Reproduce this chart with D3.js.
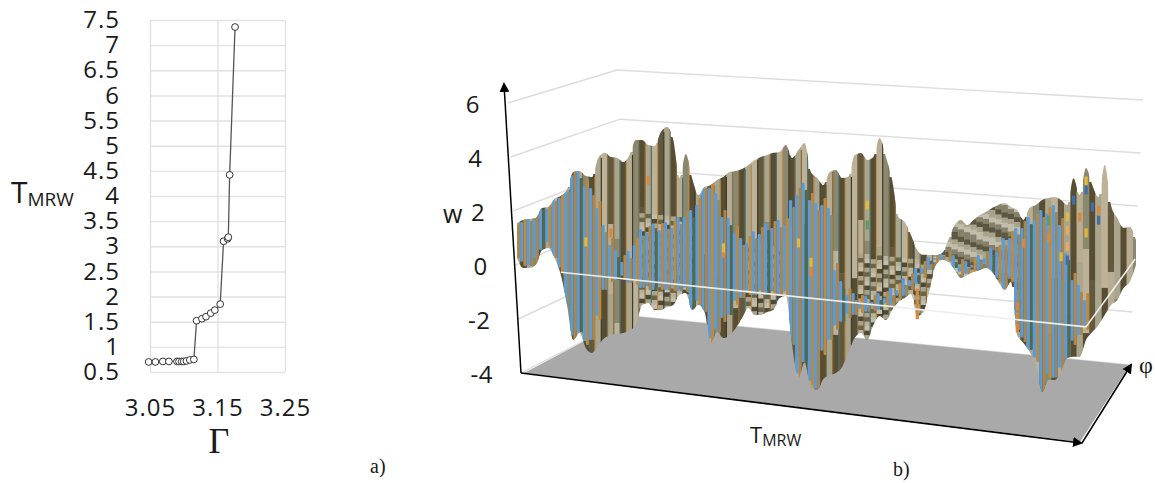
<!DOCTYPE html>
<html>
<head>
<meta charset="utf-8">
<script src="https://cdn.jsdelivr.net/npm/d3@7"></script>
<style>
    html, body { margin: 0; background: #fff; }
    svg { display: block; }
    text { fill: #1a1a1a; font-family: "Open Sans", sans-serif; }
    .serif { font-family: "Liberation Serif", serif; }
</style>
</head>
<body>
<svg id="chart" width="1155" height="483"></svg>
<script>
// panel a) Gamma vs T_MRW
const gammaValues = [3.048, 3.058, 3.069, 3.078, 3.090, 3.093, 3.097, 3.100, 3.104, 3.109, 3.115,
    3.119, 3.127, 3.133, 3.140, 3.146, 3.154, 3.159, 3.165, 3.166, 3.168, 3.176];
const periodValues = [0.70, 0.70, 0.71, 0.71, 0.71, 0.71, 0.71, 0.71, 0.72, 0.74, 0.75,
    1.52, 1.56, 1.60, 1.67, 1.73, 1.85, 3.10, 3.15, 3.18, 4.42, 7.36];
const periodTicks = [0.5, 1, 1.5, 2, 2.5, 3, 3.5, 4, 4.5, 5, 5.5, 6, 6.5, 7, 7.5];
const gammaTicks = [3.05, 3.15, 3.25];

// panel b) surface, one value per station along T_MRW
const wTicks = [6, 4, 2, 0, -2, -4];
const surfaceTop = [1.66, 1.79, 1.85, 1.91, 2.31, 2.37, 2.69, 2.82, 3.07, 3.76, 3.82, 3.66, 3.65, 4.38, 4.59, 4.46, 4.45, 4.32, 4.61, 5.19,
    5.21, 5.05, 5.04, 5.58, 5.79, 5.33, 3.95, 4.86, 4.00, 3.39, 3.71, 3.81, 4.02, 4.15, 4.36, 4.42, 4.52, 4.69, 4.90, 5.04,
    5.14, 5.24, 5.30, 5.58, 5.12, 5.44, 5.73, 4.68, 4.48, 4.24, 4.75, 4.85, 4.57, 4.64, 5.47, 5.57, 5.34, 5.47, 6.20, 5.52,
    4.69, 3.35, 3.19, 2.73, 2.20, 2.04, 2.06, 2.08, 2.18, 2.69, 3.27, 3.48, 3.31, 3.52, 3.73, 3.87, 4.04, 4.18, 4.27, 4.15,
    4.06, 3.72, 4.19, 4.32, 4.53, 4.63, 4.69, 4.60, 4.44, 5.46, 4.86, 5.88, 5.28, 4.86, 6.07, 4.61, 4.15, 3.81, 3.87, 3.41];
const surfaceBottom = [0.36, 0.01, 0.04, 0.17, 0.75, 0.85, 0.50, -0.10, -1.19, -2.46, -2.18, -2.71, -2.87, -2.55, -2.27, -2.13, -2.07, -2.01, -1.88, -1.67,
    -0.90, -0.80, -1.04, -1.01, -0.88, -0.78, -0.38, -0.29, -0.89, -0.68, -0.92, -2.04, -1.61, -1.81, -1.67, -1.39, -1.00, -0.60, -0.84, -0.81,
    -0.68, -0.58, -0.11, -0.01, -1.80, -3.00, -2.39, -3.32, -3.37, -2.94, -2.77, -2.67, -2.43, -1.85, -1.30, -1.09, -1.33, -0.75, -0.39, -0.52,
    -0.12, 0.20, 0.37, 0.54, -0.25, -0.08, 0.76, 1.71, 1.92, 1.87, 1.60, 1.33, 1.46, 1.60, 1.70, 1.79, 1.67, 1.32, 1.05, 1.37,
    -0.57, -0.84, -1.15, -1.60, -2.58, -2.11, -2.09, -1.77, -1.23, -1.16, -1.14, -0.49, -0.17, 0.12, 0.51, 0.91, 1.11, 1.58, 1.83, 2.48];
const frontTop = [1.58, 1.72, 1.78, 1.84, 2.23, 2.29, 2.61, 2.75, 3.00, 3.65, 3.56, 3.29, 2.98, 2.52, 1.66, 1.20, 0.78, 0.62, 0.79, 1.30,
    1.66, 1.79, 1.89, 1.95, 2.01, 2.07, 2.24, 2.53, 2.55, 3.02, 3.67, 3.70, 3.28, 2.67, 2.40, 2.13, 1.71, 1.81, 2.01, 2.19,
    2.36, 2.46, 2.52, 2.62, 3.31, 3.78, 3.99, 3.64, 3.29, 3.50, 3.16, 1.14, 0.50, 0.26, 0.10, 0.05, 0.04, 0.10, 0.20, 0.30,
    0.43, 0.64, 0.85, 1.06, 1.27, 1.55, 1.73, 1.97, 2.07, 2.02, 1.90, 1.77, 1.72, 1.86, 1.99, 2.16, 2.30, 2.44, 2.72, 3.00,
    3.14, 3.42, 3.59, 3.76, 3.90, 4.04, 4.13, 3.68, 2.40, 1.69, 1.27, 0.99];
const frontBottom = [0.36, 0.09, 0.11, 0.28, 0.75, 0.92, 0.50, 0.01, -1.19, -2.46, -2.14, -2.60, -2.39, -1.62, -0.49, -0.17, -0.07, -0.05, -0.13, -0.18,
    -0.27, -0.32, -0.30, -0.27, -0.25, -0.26, -0.24, -0.25, -0.89, -0.68, -0.92, -2.04, -1.54, -1.22, -0.93, -0.54, -0.26, -0.12, -0.10, -0.07,
    -0.05, -0.02, 0.00, -0.01, -1.80, -3.00, -2.39, -3.21, -3.30, -2.05, -1.47, -1.08, -0.76, -0.59, -0.45, -0.35, -0.29, -0.23, -0.17, -0.07,
    0.06, 0.27, 0.44, 0.69, 0.94, 1.18, 1.50, 1.75, 1.92, 1.91, 1.67, 1.40, 1.50, 1.60, 1.70, 1.79, 1.67, 1.32, 1.05, 1.37,
    -0.38, -0.80, -1.07, -1.49, -2.58, -2.04, -2.01, -1.77, -1.23, -0.72, -0.33, -0.12];

// stretches of the surface that break up into small cells, and the w they start below
const crinkleFrom = [20, 37, 55];
const crinkleTo = [28, 42, 68];
const crinkleW = [2.5, 1.8, 1.85];
const hillFrom = 67, hillTo = 80;

// single coloured cells on the surface
const accentStation = [11, 33, 33, 45, 47, 47, 56, 56, 64, 64, 64, 80, 80, 80, 88, 88, 89, 91, 91, 90, 92, 93, 93, 85, 85, 87, 88, 88, 91, 81, 15, 21];
const accentW = [1.22, 1.33, 1.53, 2.0, 1.33, 0.98, 3.67, 2.93, 0.6, 0.2, -0.2, 0.5, 0.1, -0.3, 4.0, 3.5, 4.65, 5.4, 5.07, 4.04, 4.46, 4.37, 4.0, 3.17, 3.8, 2.5, 2.4, 2.9, 3.48, 2.86, 1.65, 3.75];
const accentColor = ["#e2b93b", "#d9883c", "#e2b93b", "#e2b93b", "#e2b93b", "#d9883c", "#e2b93b", "#5f9a6a", "#d9883c", "#d9883c", "#d9883c", "#dd8434", "#dd8434", "#dd8434",
    "#e2b93b", "#e8a95c", "#3f6ea8", "#e2b93b", "#3f6ea8", "#d9883c", "#3f6ea8", "#d9883c", "#3f6ea8", "#d9883c", "#5f9a6a", "#e2b93b", "#3f6ea8", "#e8a95c", "#e2b93b", "#d9883c", "#d9883c", "#d9883c"];

const backColors = ["#a9a48c", "#564d33", "#b8ad93", "#8b8870", "#564d33", "#aaa58c", "#bdb198", "#63593d"];
const thinColors = ["#8a6a3a", "#4f6f6a", "#b98a4a", "#3d3a2a", "#7a7358"];
const bandColors = ["#5b5640", "#a8a48c", "#c2bcaa", "#85806a"];
const crinkleColors = ["#c2bcaa", "#4f4a34", "#a8a48c", "#6b6549", "#b9b29a"];
const frontColors = ["#a8864f", "#c08a3e", "#8d8a6e", "#a8864f", "#4f6a50", "#b48a4c"];

const svg = d3.select("#chart");

// ---------- panel a ----------
const x = d3.scaleLinear().domain([3.05, 3.25]).range([150, 285]);
const y = d3.scaleLinear().domain([0.5, 7.5]).range([372, 20]);

const yAxis = svg.append("g")
    .attr("transform", "translate(150,0)")
    .call(d3.axisLeft(y).tickValues(periodTicks).tickSize(-135).tickPadding(30).tickFormat(d => d));
const xAxis = svg.append("g")
    .attr("transform", "translate(0,372)")
    .call(d3.axisBottom(x).tickValues(gammaTicks).tickSize(-352).tickPadding(27).tickFormat(d3.format(".2f")));
[yAxis, xAxis].forEach(a => {
    a.select(".domain").remove();
    a.selectAll("line").attr("stroke", "#e2e2e2").attr("stroke-width", 1.4);
    a.selectAll("text").style("font-size", "24px").style("letter-spacing", "1px");
});

const curvePoints = gammaValues.map((g, i) => [x(g), y(periodValues[i])]);
svg.append("path")
    .attr("d", d3.line()(curvePoints))
    .attr("fill", "none").attr("stroke", "#555").attr("stroke-width", 1.3);
svg.append("g").selectAll("circle")
    .data(curvePoints)
    .join("circle")
        .attr("cx", d => d[0])
        .attr("cy", d => d[1])
        .attr("r", 3.4)
        .attr("fill", "#fff")
        .attr("stroke", "#333")
        .attr("stroke-width", 1);

function labelWithIndex(px, py, big, small, bigSize, smallSize, drop) {
    const t = svg.append("text").attr("x", px).attr("y", py).style("font-size", bigSize + "px").text(big);
    t.append("tspan").attr("dy", drop).style("font-size", smallSize + "px").text(small);
}
labelWithIndex(11, 203, "T", "MRW", 30, 19, 3);
svg.append("text").attr("class", "serif").attr("x", 219).attr("y", 453).attr("text-anchor", "middle")
    .style("font-size", "36px").text("Γ");
svg.append("text").attr("class", "serif").attr("x", 370).attr("y", 473).style("font-size", "20px").text("a)");

// ---------- panel b ----------
const station = d3.scaleLinear().domain([0, 99]).range([517, 1136]);
const zeroLine = d3.scaleLinear().domain([0, 99]).range([267.7, 332.05]);
const wHeight = d3.scaleLinear().domain([0, 1]).range([0, 27]);
const project = (i, w) => zeroLine(i) - wHeight(w);
const stationWidth = station(1) - station(0);

// walls: front-left edge, back-left edge, back-right edge
const frontLeftX = d3.scaleLinear().domain([-4, 6]).range([521, 508]);
const frontLeftY = d3.scaleLinear().domain([-4, 6]).range([373, 103]);
const backLeftX = d3.scaleLinear().domain([-4, 6]).range([632, 617]);
const backLeftY = d3.scaleLinear().domain([-4, 6]).range([316, 70]);
const backRightX = d3.scaleLinear().domain([-4, 6]).range([1130, 1143]);
const backRightY = d3.scaleLinear().domain([-4, 6]).range([365, 100]);

svg.append("g").selectAll("path")
    .data(wTicks)
    .join("path")
        .attr("d", w => d3.line()([
            [frontLeftX(w), frontLeftY(w)],
            [backLeftX(w), backLeftY(w)],
            [backRightX(w), backRightY(w)]
        ]))
        .attr("fill", "none")
        .attr("stroke", "#dcdcdc")
        .attr("stroke-width", 1.4);

// floor
svg.append("path")
    .attr("d", d3.line()([
        [frontLeftX(-4) + 3, frontLeftY(-4)],
        [1080, 442],
        [backRightX(-4), backRightY(-4)],
        [backLeftX(-4), backLeftY(-4)]
    ]) + "Z")
    .attr("fill", "#a9a9a9");

svg.append("g").selectAll("text")
    .data(wTicks)
    .join("text")
        .attr("x", d3.scaleLinear().domain([-4, 6]).range([493, 480]))
        .attr("y", w => frontLeftY(w) + 10)
        .attr("text-anchor", "end")
        .style("font-size", "24px")
        .style("letter-spacing", "0.5px")
        .text(d => d);
svg.append("text").attr("x", 443).attr("y", 223).style("font-size", "25px").text("w");

const defs = svg.append("defs");
defs.append("filter").attr("id", "soft")
    .append("feGaussianBlur").attr("stdDeviation", 0.4);

const wholeArea = d3.area()
    .x((d, i) => station(i))
    .y0((d, i) => project(i, surfaceBottom[i]))
    .y1((d, i) => project(i, d))
    .curve(d3.curveMonotoneX);
defs.append("clipPath").attr("id", "clip-whole").append("path").attr("d", wholeArea(surfaceTop));

const surface = svg.append("g").attr("filter", "url(#soft)");
const clipped = surface.append("g").attr("clip-path", "url(#clip-whole)");

// back of the surface, split into cells down each column
const backCells = [];
surfaceTop.forEach((top, i) => {
    const yTop = project(i, top) - 3;
    const yBottom = project(i, surfaceBottom[i]) + 3;
    const zone = crinkleFrom.findIndex((f, k) => i >= f && i <= crinkleTo[k]);
    const yCrinkle = zone >= 0 ? project(i, crinkleW[zone]) : Infinity;
    const inHill = i >= hillFrom && i <= hillTo;
    let yy = yTop, j = 0;
    while (yy < yBottom) {
        let h = 70 + (i % 5) * 14;
        let color = backColors[(i + j * 3) % backColors.length];
        if (inHill) {
            // slanted bands running down the hill
            h = 2.5;
            const band = Math.floor((yy - station(i) * 0.45) / 5.5);
            color = bandColors[((band % 4) + 4) % 4];
        } else if (yy >= yCrinkle) {
            h = 4.5;
            color = crinkleColors[(i * 2 + j) % crinkleColors.length];
        } else if (yy + h > yCrinkle) {
            h = yCrinkle - yy;
        }
        backCells.push({i, y: yy, h: h + 0.5, color});
        yy += h;
        j++;
    }
});
clipped.append("g").selectAll("rect")
    .data(backCells)
    .join("rect")
        .attr("x", d => station(d.i) - stationWidth / 2)
        .attr("y", d => d.y)
        .attr("width", stationWidth + 0.3)
        .attr("height", d => d.h)
        .attr("fill", d => d.color);

// thin seams between the columns
clipped.append("g").selectAll("rect")
    .data(d3.range(hillFrom))
    .join("rect")
        .attr("x", i => station(i) + stationWidth / 2 - 0.7)
        .attr("y", i => project(i, surfaceTop[i]))
        .attr("width", 1.2)
        .attr("height", i => project(i, surfaceBottom[i]) - project(i, surfaceTop[i]))
        .attr("fill", i => thinColors[i % thinColors.length]);

// front edge: blue and tan stripes side by side, the ends alternate so the edge stays jagged
const jag = i => (i % 2 ? 0 : 7);
const frontY = i => project(i, frontTop[i]) - jag(i);
const frontH = i => project(i, frontBottom[i]) - project(i, frontTop[i]) + jag(i) - jag(i + 1) * 0.6;
const front = clipped.append("g");
front.selectAll("rect.blue")
    .data(d3.range(frontTop.length))
    .join("rect")
        .attr("class", "blue")
        .attr("x", i => station(i) - stationWidth / 2)
        .attr("y", frontY)
        .attr("width", stationWidth * 0.52)
        .attr("height", d => Math.max(0, frontH(d)))
        .attr("rx", 1.4)
        .attr("fill", "#5b9ad8");
front.selectAll("rect.tan")
    .data(d3.range(frontTop.length))
    .join("rect")
        .attr("class", "tan")
        .attr("x", i => station(i) + stationWidth * 0.02)
        .attr("y", i => project(i, frontTop[i]) - jag(i + 1))
        .attr("width", stationWidth * 0.48)
        .attr("height", i => Math.max(0, project(i, frontBottom[i]) - project(i, frontTop[i]) + jag(i + 1)))
        .attr("rx", 1.2)
        .attr("fill", i => frontColors[i % frontColors.length]);

surface.append("g").selectAll("rect")
    .data(accentStation)
    .join("rect")
        .attr("x", i => station(i) - 1.5)
        .attr("y", (i, k) => project(i, accentW[k]) - 4.5)
        .attr("width", 3.2)
        .attr("height", 9)
        .attr("fill", (i, k) => accentColor[k]);

// white w = 0 rule laid over the surface, with its return on the right wall
svg.append("path")
    .attr("d", d3.line()([
        [station(7), project(7, 0)],
        [station(91), project(91, 0)],
        [backRightX(0), backRightY(0)]
    ]))
    .attr("fill", "none").attr("stroke", "#eeeeee").attr("stroke-width", 1.6);

// axes with arrow heads
defs.append("marker").attr("id", "arrow")
    .attr("viewBox", "0 0 10 10").attr("refX", 8).attr("refY", 5)
    .attr("markerWidth", 10).attr("markerHeight", 10)
    .attr("markerUnits", "userSpaceOnUse").attr("orient", "auto")
    .append("path").attr("d", "M0,0L10,5L0,10Z").attr("fill", "#000");

const axisCorner = [frontLeftX(-4), frontLeftY(-4)];
const floorFrontRight = [1081, 443];
[
    [axisCorner, [504, 84]],
    [axisCorner, floorFrontRight],
    [[floorFrontRight[0] + 1, floorFrontRight[1]], [1131, 365]]
].forEach(seg => {
    svg.append("path")
        .attr("d", d3.line()(seg))
        .attr("stroke", "#000").attr("stroke-width", 1.5)
        .attr("marker-end", "url(#arrow)");
});

labelWithIndex(750, 443, "T", "MRW", 22, 16, 3);
svg.append("text").attr("class", "serif").attr("x", 1139).attr("y", 373).style("font-size", "24px").text("φ");
svg.append("text").attr("class", "serif").attr("x", 893).attr("y", 476).style("font-size", "20px").text("b)");
</script>
</body>
</html>
